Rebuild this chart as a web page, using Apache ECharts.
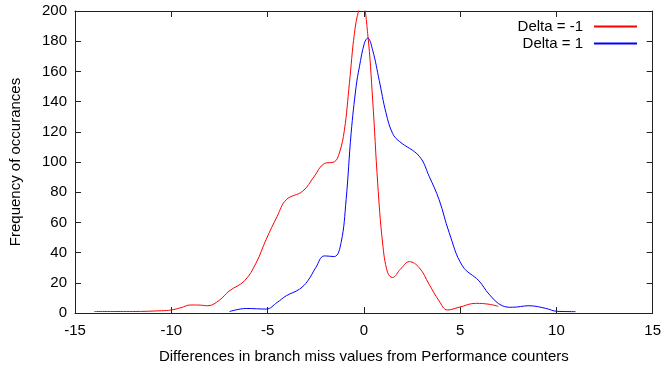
<!DOCTYPE html>
<html>
<head>
<meta charset="utf-8">
<script src="https://cdn.jsdelivr.net/npm/echarts@6/dist/echarts.min.js"></script>
<style>
  html, body { margin: 0; padding: 0; background: #fff; }
  #chart { width: 664px; height: 369px; }
</style>
</head>
<body>
<div id="chart"></div>
<script>
// values: [difference, frequency]
const deltaMinus1 = [
  [-14, 1], [-12, 1], [-10.5, 1.5], [-10, 2], [-9.5, 3.5], [-9, 5.3], [-8.5, 5.2], [-8.1, 4.8],
  [-7.5, 8.5], [-7, 14.5], [-6.2, 21.3], [-5.6, 33], [-5.07, 48.8], [-4.5, 64],
  [-4.03, 75], [-3.17, 80.7], [-2.6, 90], [-2.05, 99], [-1.53, 100.1], [-1.27, 106],
  [-1.01, 121], [-0.75, 152], [-0.49, 185], [-0.25, 201], [-0.06, 204], [0.2, 185],
  [0.46, 141], [0.72, 86], [0.97, 47], [1.23, 27], [1.49, 23.5], [1.9, 29],
  [2.36, 34], [2.88, 30], [3.39, 19], [3.91, 8], [4.34, 2], [4.95, 3.8],
  [5.81, 6.4], [6.5, 5.8], [6.98, 4.4]
];
const deltaPlus1 = [
  [-6.97, 1], [-6.1, 3], [-5.07, 2.6], [-4.5, 7], [-4.03, 11.4], [-3.34, 15.8],
  [-2.91, 21.3], [-2.5, 30], [-2.05, 37.8], [-1.53, 37.4], [-1.18, 46.7], [-0.92, 75],
  [-0.66, 119], [-0.4, 150], [-0.23, 163], [0.03, 178.7], [0.2, 182], [0.46, 174],
  [0.8, 154], [1.15, 132.6], [1.49, 119], [1.84, 113.7], [2.88, 103.8], [3.39, 90.6],
  [3.91, 75], [4.43, 53.3], [5.12, 31.2], [5.98, 21.3], [6.5, 12.5], [7.19, 4.8],
  [7.71, 3.8], [8.58, 4.8], [9.44, 3.1], [10.04, 1.1], [10.99, 0.9]
];
const seriesNames = ['Delta = -1', 'Delta = 1'];
const xTitle = 'Differences in branch miss values from Performance counters';
const yTitle = 'Frequency of occurances';

const font = 'Liberation Sans, Arial, sans-serif';
const chart = echarts.init(document.getElementById('chart'));

const frameLine = { show: true, onZero: false, lineStyle: { color: '#222', width: 1 } };
const innerTick = { show: true, inside: true, length: 6, lineStyle: { color: '#222' } };

chart.setOption({
  animation: false,
  grid: { left: 75, right: 10, top: 11, bottom: 55 },
  legend: {
    orient: 'vertical',
    right: 22,
    top: 14,
    align: 'right',
    itemGap: 2,
    itemWidth: 43,
    itemHeight: 2,
    icon: 'rect',
    textStyle: { fontFamily: font, fontSize: 15, color: '#000', padding: [0, 6, 0, 0] },
    data: seriesNames
  },
  xAxis: [
    {
      type: 'value', min: -15, max: 15, interval: 5,
      name: xTitle, nameLocation: 'middle', nameGap: 36,
      nameTextStyle: { fontFamily: font, fontSize: 15, color: '#000' },
      axisLine: frameLine, axisTick: innerTick,
      axisLabel: { fontFamily: font, fontSize: 15, color: '#000', margin: 10 },
      splitLine: { show: false }
    },
    {
      type: 'value', position: 'top', min: -15, max: 15, interval: 5,
      axisLine: frameLine, axisTick: innerTick, axisLabel: { show: false },
      splitLine: { show: false }
    }
  ],
  yAxis: [
    {
      type: 'value', min: 0, max: 200, interval: 20,
      name: yTitle, nameLocation: 'middle', nameGap: 52,
      nameTextStyle: { fontFamily: font, fontSize: 15, color: '#000' },
      axisLine: frameLine, axisTick: innerTick,
      axisLabel: { fontFamily: font, fontSize: 15, color: '#000', margin: 8 },
      splitLine: { show: false }
    },
    {
      type: 'value', position: 'right', min: 0, max: 200, interval: 20,
      axisLine: frameLine, axisTick: innerTick, axisLabel: { show: false },
      splitLine: { show: false }
    }
  ],
  series: [
    {
      name: seriesNames[0], type: 'line', smooth: 0.4, showSymbol: false, clip: true,
      itemStyle: { color: '#ff0000' }, lineStyle: { color: '#ff0000', width: 1 },
      data: deltaMinus1
    },
    {
      name: seriesNames[1], type: 'line', smooth: 0.4, showSymbol: false, clip: true,
      itemStyle: { color: '#0000ff' }, lineStyle: { color: '#0000ff', width: 1 },
      data: deltaPlus1
    }
  ]
});
</script>
</body>
</html>
